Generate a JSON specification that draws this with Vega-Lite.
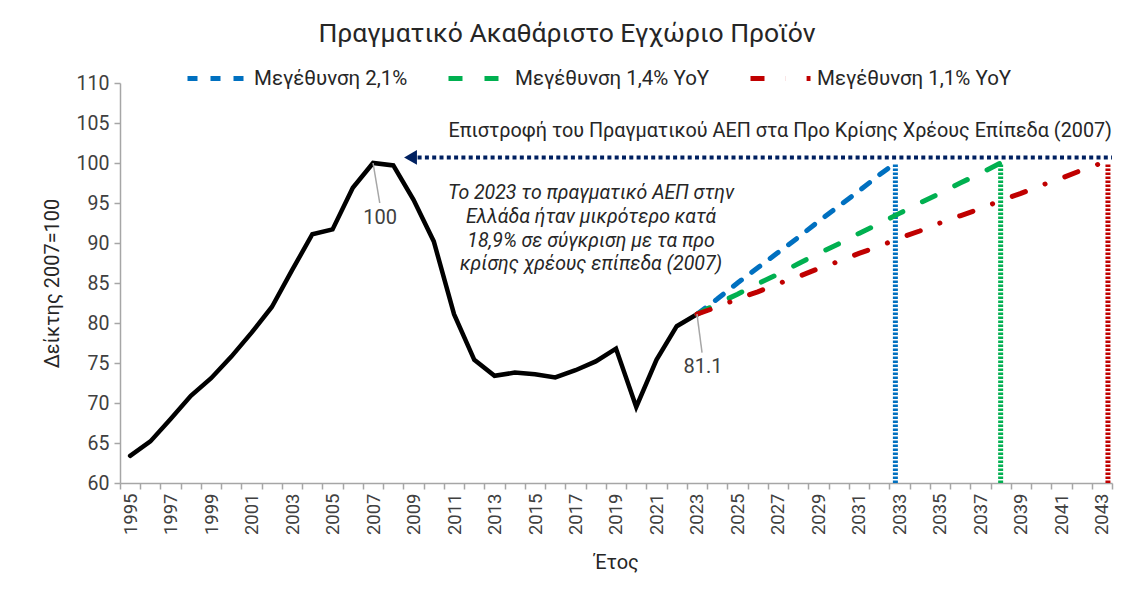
{
  "$schema": "https://vega.github.io/schema/vega-lite/v6.json",
  "width": 992,
  "height": 400,
  "autosize": {"type": "none"},
  "padding": {"left": 120, "top": 83, "right": 23, "bottom": 117},
  "background": "white",
  "config": {
    "view": {"stroke": null},
    "font": "Roboto",
    "axisY": {"labelOverlap": false, "tickCount": 20, "labelFontSize": 19.5, "labelColor": "#404040", "labelPadding": 5, "tickSize": 6, "tickColor": "#a6a6a6", "tickWidth": 1.5, "domainColor": "#a6a6a6", "domainWidth": 1.5, "grid": false},
    "axisX": {"tickCount": 100}
  },
  "title": {"text": "Πραγματικό Ακαθάριστο Εγχώριο Προϊόν", "fontSize": 26.5, "fontWeight": "normal", "color": "#262626", "anchor": "middle", "dx": -49, "dy": 30, "offset": 29},
  "datasets": {
    "gdp": [
      {"year": 1995, "value": 63.4}, {"year": 1996, "value": 65.2}, {"year": 1997, "value": 68.0}, {"year": 1998, "value": 70.9},
      {"year": 1999, "value": 73.1}, {"year": 2000, "value": 75.8}, {"year": 2001, "value": 78.8}, {"year": 2002, "value": 82.0},
      {"year": 2003, "value": 86.6}, {"year": 2004, "value": 91.1}, {"year": 2005, "value": 91.7}, {"year": 2006, "value": 96.9},
      {"year": 2007, "value": 100.0}, {"year": 2008, "value": 99.7}, {"year": 2009, "value": 95.4}, {"year": 2010, "value": 90.2},
      {"year": 2011, "value": 81.1}, {"year": 2012, "value": 75.4}, {"year": 2013, "value": 73.4}, {"year": 2014, "value": 73.8},
      {"year": 2015, "value": 73.6}, {"year": 2016, "value": 73.2}, {"year": 2017, "value": 74.1}, {"year": 2018, "value": 75.2},
      {"year": 2019, "value": 76.8}, {"year": 2020, "value": 69.5}, {"year": 2021, "value": 75.4}, {"year": 2022, "value": 79.6},
      {"year": 2023, "value": 81.1}
    ],
    "proj": [
      {"series": "Μεγέθυνση 2,1%", "year": 2023, "value": 81.1},
      {"series": "Μεγέθυνση 2,1%", "year": 2024, "value": 83.0},
      {"series": "Μεγέθυνση 2,1%", "year": 2025, "value": 85.0},
      {"series": "Μεγέθυνση 2,1%", "year": 2026, "value": 86.9},
      {"series": "Μεγέθυνση 2,1%", "year": 2027, "value": 88.8},
      {"series": "Μεγέθυνση 2,1%", "year": 2028, "value": 90.7},
      {"series": "Μεγέθυνση 2,1%", "year": 2029, "value": 92.7},
      {"series": "Μεγέθυνση 2,1%", "year": 2030, "value": 94.6},
      {"series": "Μεγέθυνση 2,1%", "year": 2031, "value": 96.5},
      {"series": "Μεγέθυνση 2,1%", "year": 2032, "value": 98.5},
      {"series": "Μεγέθυνση 2,1%", "year": 2032.8, "value": 100.0},
      {"series": "Μεγέθυνση 1,4% YoY", "year": 2023, "value": 81.1},
      {"series": "Μεγέθυνση 1,4% YoY", "year": 2024, "value": 82.4},
      {"series": "Μεγέθυνση 1,4% YoY", "year": 2025, "value": 83.6},
      {"series": "Μεγέθυνση 1,4% YoY", "year": 2026, "value": 84.9},
      {"series": "Μεγέθυνση 1,4% YoY", "year": 2027, "value": 86.1},
      {"series": "Μεγέθυνση 1,4% YoY", "year": 2028, "value": 87.4},
      {"series": "Μεγέθυνση 1,4% YoY", "year": 2029, "value": 88.7},
      {"series": "Μεγέθυνση 1,4% YoY", "year": 2030, "value": 89.9},
      {"series": "Μεγέθυνση 1,4% YoY", "year": 2031, "value": 91.2},
      {"series": "Μεγέθυνση 1,4% YoY", "year": 2032, "value": 92.4},
      {"series": "Μεγέθυνση 1,4% YoY", "year": 2033, "value": 93.7},
      {"series": "Μεγέθυνση 1,4% YoY", "year": 2034, "value": 95.0},
      {"series": "Μεγέθυνση 1,4% YoY", "year": 2035, "value": 96.2},
      {"series": "Μεγέθυνση 1,4% YoY", "year": 2036, "value": 97.5},
      {"series": "Μεγέθυνση 1,4% YoY", "year": 2037, "value": 98.7},
      {"series": "Μεγέθυνση 1,4% YoY", "year": 2038, "value": 100.0},
      {"series": "Μεγέθυνση 1,1% YoY", "year": 2023, "value": 81.1},
      {"series": "Μεγέθυνση 1,1% YoY", "year": 2024, "value": 82.0},
      {"series": "Μεγέθυνση 1,1% YoY", "year": 2025, "value": 83.0},
      {"series": "Μεγέθυνση 1,1% YoY", "year": 2026, "value": 83.9},
      {"series": "Μεγέθυνση 1,1% YoY", "year": 2027, "value": 84.9},
      {"series": "Μεγέθυνση 1,1% YoY", "year": 2028, "value": 85.8},
      {"series": "Μεγέθυνση 1,1% YoY", "year": 2029, "value": 86.8},
      {"series": "Μεγέθυνση 1,1% YoY", "year": 2030, "value": 87.7},
      {"series": "Μεγέθυνση 1,1% YoY", "year": 2031, "value": 88.7},
      {"series": "Μεγέθυνση 1,1% YoY", "year": 2032, "value": 89.6},
      {"series": "Μεγέθυνση 1,1% YoY", "year": 2033, "value": 90.6},
      {"series": "Μεγέθυνση 1,1% YoY", "year": 2034, "value": 91.5},
      {"series": "Μεγέθυνση 1,1% YoY", "year": 2035, "value": 92.5},
      {"series": "Μεγέθυνση 1,1% YoY", "year": 2036, "value": 93.4},
      {"series": "Μεγέθυνση 1,1% YoY", "year": 2037, "value": 94.3},
      {"series": "Μεγέθυνση 1,1% YoY", "year": 2038, "value": 95.3},
      {"series": "Μεγέθυνση 1,1% YoY", "year": 2039, "value": 96.2},
      {"series": "Μεγέθυνση 1,1% YoY", "year": 2040, "value": 97.2},
      {"series": "Μεγέθυνση 1,1% YoY", "year": 2041, "value": 98.1},
      {"series": "Μεγέθυνση 1,1% YoY", "year": 2042, "value": 99.1},
      {"series": "Μεγέθυνση 1,1% YoY", "year": 2043, "value": 100.0}
    ],
    "bars": [
      {"series": "Μεγέθυνση 2,1%", "year": 2032.8, "low": 60, "high": 100},
      {"series": "Μεγέθυνση 1,4% YoY", "year": 2038.0, "low": 60, "high": 100},
      {"series": "Μεγέθυνση 1,1% YoY", "year": 2043.3, "low": 60, "high": 100}
    ],
    "target": [{"from": 2009.2, "to": 2043.5, "level": 100.7}],
    "arrow": [{"year": 2008.85, "level": 100.7}],
    "leaders": [
      {"x1": 2007.0, "y1": 100.0, "x2": 2007.33, "y2": 95.0},
      {"x1": 2023.0, "y1": 81.1, "x2": 2023.25, "y2": 76.3}
    ],
    "labels": [
      {"year": 2007.35, "level": 93.1, "text": "100"},
      {"year": 2023.3, "level": 74.5, "text": "81.1"}
    ],
    "topnote": [{"year": 2043.5, "level": 104.0, "text": "Επιστροφή του Πραγματικού ΑΕΠ στα Προ Κρίσης Χρέους Επίπεδα (2007)"}],
    "note": [{"year": 2017.77, "level": 96.2, "text": "Το 2023 το πραγματικό ΑΕΠ στην\nΕλλάδα ήταν μικρότερο κατά\n18,9% σε σύγκριση με τα προ\nκρίσης χρέους επίπεδα (2007)"}]
  },
  "layer": [
    {
      "data": {"name": "gdp"},
      "mark": {"type": "line", "color": "#000000", "strokeWidth": 4.5, "strokeJoin": "miter", "strokeCap": "round"},
      "encoding": {
        "x": {
          "field": "year", "type": "quantitative",
          "scale": {"domain": [1994.5, 2043.5], "nice": false, "zero": false},
          "axis": {
            "values": [1994.5,1995.5,1996.5,1997.5,1998.5,1999.5,2000.5,2001.5,2002.5,2003.5,2004.5,2005.5,2006.5,2007.5,2008.5,2009.5,2010.5,2011.5,2012.5,2013.5,2014.5,2015.5,2016.5,2017.5,2018.5,2019.5,2020.5,2021.5,2022.5,2023.5,2024.5,2025.5,2026.5,2027.5,2028.5,2029.5,2030.5,2031.5,2032.5,2033.5,2034.5,2035.5,2036.5,2037.5,2038.5,2039.5,2040.5,2041.5,2042.5,2043.5],
            "tickCount": 100,
            "labelExpr": "(datum.value + 0.5) % 2 == 1 ? format(datum.value + 0.5, 'd') : ''",
            "labelOffset": 10.12,
            "labelAngle": -90,
            "labelFontSize": 18.5,
            "labelColor": "#404040",
            "labelPadding": 4,
            "labelOverlap": false,
            "labelBound": false,
            "labelFlush": false,
            "tickSize": 6,
            "tickColor": "#a6a6a6",
            "tickWidth": 1.5,
            "domainColor": "#a6a6a6",
            "domainWidth": 1.5,
            "grid": false,
            "title": "Έτος",
            "titleFontSize": 20,
            "titleFontWeight": "normal",
            "titleColor": "#262626",
            "titleBaseline": "middle",
            "titleY": 79
          }
        },
        "y": {
          "field": "value", "type": "quantitative",
          "scale": {"domain": [60, 110], "nice": false, "zero": false},
          "axis": {
            "values": [60, 65, 70, 75, 80, 85, 90, 95, 100, 105, 110],
            "tickCount": 20,
            "labelOverlap": false,
            "labelFlush": false,
            "title": "Δείκτης 2007=100",
            "titleFontSize": 20,
            "titleFontWeight": "normal",
            "titleColor": "#262626",
            "titleAngle": -90,
            "titleAlign": "center",
            "titleBaseline": "middle",
            "titleX": -68,
            "titleY": 200
          }
        }
      }
    },
    {
      "data": {"name": "bars"},
      "mark": {"type": "rule", "strokeWidth": 5, "strokeDash": [2.5, 1.5]},
      "encoding": {
        "x": {"field": "year", "type": "quantitative"},
        "y": {"field": "low", "type": "quantitative"},
        "y2": {"field": "high"},
        "color": {"field": "series", "type": "nominal",
          "scale": {"domain": ["Μεγέθυνση 2,1%", "Μεγέθυνση 1,4% YoY", "Μεγέθυνση 1,1% YoY"], "range": ["#0070C0", "#00B050", "#C00000"]},
          "legend": {"orient": "none", "legendX": 65, "legendY": -37, "direction": "horizontal", "columns": 3, "title": null,
            "symbolType": "stroke", "symbolSize": 3600, "symbolStrokeWidth": 5, "labelFontSize": 20.5, "labelColor": "#262626",
            "columnPadding": 30, "labelOffset": 4, "labelLimit": 400}}
      }
    },
    {
      "data": {"name": "proj"},
      "mark": {"type": "line", "strokeWidth": 5, "strokeCap": "round"},
      "encoding": {
        "x": {"field": "year", "type": "quantitative"},
        "y": {"field": "value", "type": "quantitative"},
        "color": {"field": "series", "type": "nominal",
          "scale": {"domain": ["Μεγέθυνση 2,1%", "Μεγέθυνση 1,4% YoY", "Μεγέθυνση 1,1% YoY"], "range": ["#0070C0", "#00B050", "#C00000"]},
          "legend": {"orient": "none", "legendX": 65, "legendY": -37, "direction": "horizontal", "columns": 3, "title": null,
            "symbolType": "stroke", "symbolSize": 3600, "symbolStrokeWidth": 5, "labelFontSize": 20.5, "labelColor": "#262626",
            "columnPadding": 30, "labelOffset": 4, "labelLimit": 400}},
        "strokeDash": {"field": "series", "type": "nominal",
          "scale": {"domain": ["Μεγέθυνση 2,1%", "Μεγέθυνση 1,4% YoY", "Μεγέθυνση 1,1% YoY"], "range": [[10, 13], [14, 22], [14, 21, 0.1, 21]]},
          "legend": {"orient": "none", "legendX": 65, "legendY": -37, "direction": "horizontal", "columns": 3, "title": null,
            "symbolType": "stroke", "symbolSize": 3600, "symbolStrokeWidth": 5, "labelFontSize": 20.5, "labelColor": "#262626",
            "columnPadding": 30, "labelOffset": 4, "labelLimit": 400}}
      }
    },
    {
      "data": {"name": "target"},
      "mark": {"type": "rule", "color": "#002060", "strokeWidth": 4, "strokeDash": [4, 3.3]},
      "encoding": {
        "x": {"field": "from", "type": "quantitative"},
        "x2": {"field": "to"},
        "y": {"field": "level", "type": "quantitative"}
      }
    },
    {
      "data": {"name": "arrow"},
      "mark": {"type": "point", "shape": "triangle-left", "filled": true, "color": "#002060", "size": 220, "opacity": 1},
      "encoding": {
        "x": {"field": "year", "type": "quantitative"},
        "y": {"field": "level", "type": "quantitative"}
      }
    },
    {
      "data": {"name": "leaders"},
      "mark": {"type": "rule", "color": "#a6a6a6", "strokeWidth": 1.5},
      "encoding": {
        "x": {"field": "x1", "type": "quantitative"},
        "y": {"field": "y1", "type": "quantitative"},
        "x2": {"field": "x2"},
        "y2": {"field": "y2"}
      }
    },
    {
      "data": {"name": "labels"},
      "mark": {"type": "text", "fontSize": 20, "color": "#404040", "align": "center", "baseline": "middle"},
      "encoding": {
        "x": {"field": "year", "type": "quantitative"},
        "y": {"field": "level", "type": "quantitative"},
        "text": {"field": "text"}
      }
    },
    {
      "data": {"name": "topnote"},
      "mark": {"type": "text", "fontSize": 19.8, "color": "#262626", "align": "right", "baseline": "middle"},
      "encoding": {
        "x": {"field": "year", "type": "quantitative"},
        "y": {"field": "level", "type": "quantitative"},
        "text": {"field": "text"}
      }
    },
    {
      "data": {"name": "note"},
      "mark": {"type": "text", "fontSize": 19.5, "fontStyle": "italic", "color": "#262626", "align": "center", "baseline": "middle", "lineBreak": "\n", "lineHeight": 23.7},
      "encoding": {
        "x": {"field": "year", "type": "quantitative"},
        "y": {"field": "level", "type": "quantitative"},
        "text": {"field": "text"}
      }
    }
  ]
}
